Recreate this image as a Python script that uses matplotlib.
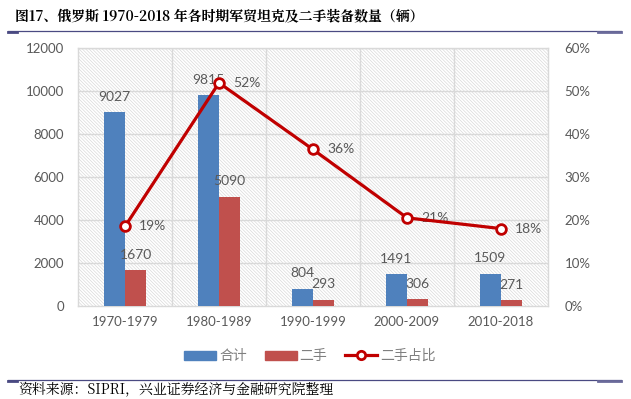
import matplotlib.pyplot as plt
from matplotlib.lines import Line2D
from matplotlib.patches import Patch
import numpy as np

plt.rcParams['font.family'] = ['Lato', 'Noto Sans CJK SC', 'DejaVu Sans']
plt.rcParams['hatch.linewidth'] = 0.5
plt.rcParams['hatch.color'] = '#d9d9d9'

# data
periods = ['1970-1979', '1980-1989', '1990-1999', '2000-2009', '2010-2018']
total = [9027, 9815, 804, 1491, 1509]
second_hand = [1670, 5090, 293, 306, 271]
share = [18.5, 51.9, 36.4, 20.5, 18.0]  # percent

title = '图17、俄罗斯 1970-2018 年各时期军贸坦克及二手装备数量（辆）'
source = '资料来源：SIPRI，兴业证券经济与金融研究院整理'

blue = '#4F81BD'
red = '#C0504D'
line_red = '#C00000'
txt = '#595959'
navy = '#4a4a82'

fig = plt.figure(figsize=(6.31, 3.99), dpi=100)
ax = fig.add_axes([78/631, 1 - 306/399, 470/631, 258/399])

# hatched background
ax.patch.set_facecolor('white')
ax.patch.set_hatch('\\' * 10)
ax.patch.set_edgecolor('#d9d9d9')

x = np.arange(len(periods))
w = 0.225
b1 = ax.bar(x - w/2, total, w, color=blue, zorder=3)
b2 = ax.bar(x + w/2, second_hand, w, color=red, zorder=3)

for rects in (b1, b2):
    for r in rects:
        h = r.get_height()
        ax.annotate(f'{h}', xy=(r.get_x() + r.get_width()/2, h),
                    xytext=(0, 11), textcoords='offset points',
                    ha='center', va='center', fontsize=10, color=txt, zorder=6)

ax.set_xlim(-0.5, 4.5)
ax.set_ylim(0, 12000)
ax.set_yticks(np.arange(0, 12001, 2000))
ax.set_xticks(x)
ax.set_xticklabels(periods)
# grid: horizontal + category separators
for yv in np.arange(2000, 12001, 2000):
    ax.axhline(yv, color='#d9d9d9', lw=1, zorder=1)
for xv in np.arange(0.5, 4.5, 1):
    ax.axvline(xv, color='#d9d9d9', lw=1, zorder=1)
for s in ax.spines.values():
    s.set_color('#d9d9d9')
    s.set_linewidth(1)
ax.tick_params(axis='both', length=0, labelsize=9.5, colors=txt)
ax.tick_params(axis='x', pad=7)
ax.tick_params(axis='y', pad=10)

ax2 = ax.twinx()
ax2.plot(x, share, color=line_red, lw=2.3, marker='o', ms=7,
         markerfacecolor='white', markeredgecolor=line_red, markeredgewidth=2, zorder=5)
for xi, v in zip(x, share):
    ax2.annotate(f'{int(v + 0.5)}%', xy=(xi, v), xytext=(10, 0),
                 textcoords='offset points', ha='left', va='center',
                 fontsize=10, color=txt)
ax2.set_ylim(0, 60)
ax2.set_yticks(np.arange(0, 61, 10))
ax2.set_yticklabels([f'{v}%' for v in range(0, 61, 10)])
ax2.tick_params(axis='y', length=0, labelsize=9.5, colors=txt, pad=12)
for s in ax2.spines.values():
    s.set_visible(False)

handles = [Patch(color=blue, label='合计'), Patch(color=red, label='二手'),
           Line2D([], [], color=line_red, lw=2.3, marker='o', ms=6,
                  markerfacecolor='white', markeredgewidth=2, label='二手占比')]
leg = fig.legend(handles=handles, loc='center', bbox_to_anchor=(310/631, 1 - 356/399),
                 ncol=3, frameon=False, handlelength=2.3, handleheight=0.6,
                 columnspacing=1.3, handletextpad=0.2,
                 prop={'family': ['Noto Sans CJK SC', 'DejaVu Sans'], 'size': 10})
for t in leg.get_texts():
    t.set_color('#7f7f7f')

# title and source with rules
fig.text(15/631, 1 - 17/399, title, ha='left', va='center', fontsize=10,
         fontweight='bold', family=['Noto Serif CJK SC', 'Noto Sans CJK SC', 'DejaVu Sans'])
fig.text(18/631, 1 - 390/399, source, ha='left', va='center', fontsize=10,
         family=['Noto Serif CJK SC', 'Noto Sans CJK SC', 'DejaVu Sans'])
for yy in (31, 380):
    yf = 1 - yy/399
    fig.add_artist(Line2D([8/631, 621/631], [yf, yf], color=navy, lw=0.9))
    fig.add_artist(Line2D([8/631, 17/631], [yf - 0.003, yf - 0.003], color=navy, lw=2))
    fig.add_artist(Line2D([598/631, 621/631], [yf - 0.003, yf - 0.003], color='#6a6a9a', lw=2))

fig.savefig('out.png', dpi=100)
